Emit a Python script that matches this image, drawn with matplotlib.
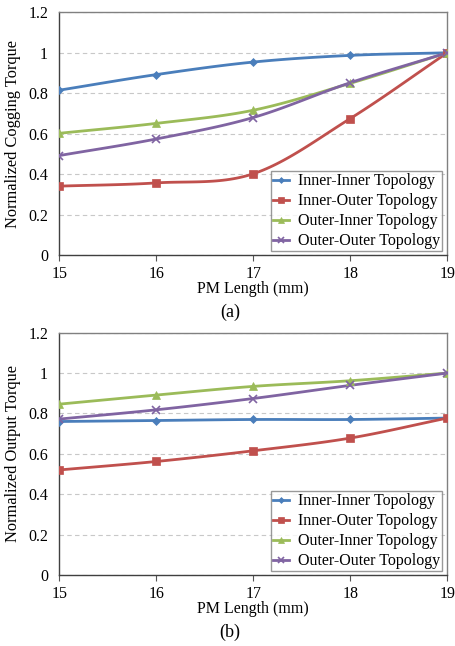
import numpy as np
import matplotlib
matplotlib.use("Agg")
import matplotlib.pyplot as plt

plt.rcParams['font.family'] = ['Liberation Serif', 'DejaVu Serif']

# PM length (mm)
pm_length = [15, 16, 17, 18, 19]
labels = ["Inner-Inner Topology", "Inner-Outer Topology",
          "Outer-Inner Topology", "Outer-Outer Topology"]

# (a) normalized cogging torque
cog_inner_inner = [0.815, 0.892, 0.954, 0.987, 1.0]
cog_inner_outer = [0.341, 0.357, 0.402, 0.675, 1.0]
cog_outer_inner = [0.602, 0.651, 0.716, 0.849, 1.0]
cog_outer_outer = [0.492, 0.574, 0.680, 0.852, 1.0]

# (b) normalized output torque
out_inner_inner = [0.760, 0.765, 0.770, 0.770, 0.777]
out_inner_outer = [0.520, 0.562, 0.615, 0.678, 0.777]
out_outer_inner = [0.846, 0.891, 0.934, 0.962, 1.0]
out_outer_outer = [0.772, 0.818, 0.874, 0.939, 1.0]

colors = ["#4A7EBB", "#C0504D", "#9BBB59", "#8064A2"]
markers = ["D", "s", "^", "x"]
msizes = [4, 5.5, 6, 6]


def smooth(x, y, n=30):
    # Catmull-Rom style curve through the points, like Excel's smoothed line
    x = np.asarray(x, float)
    y = np.asarray(y, float)
    px = np.concatenate([[2 * x[0] - x[1]], x, [2 * x[-1] - x[-2]]])
    py = np.concatenate([[2 * y[0] - y[1]], y, [2 * y[-1] - y[-2]]])
    xs, ys = [], []
    t = np.linspace(0, 1, n)
    for i in range(1, len(px) - 2):
        for p, out in ((px, xs), (py, ys)):
            p0, p1, p2, p3 = p[i - 1], p[i], p[i + 1], p[i + 2]
            m1 = (p2 - p0) / 2
            m2 = (p3 - p1) / 2
            h00 = 2 * t**3 - 3 * t**2 + 1
            h10 = t**3 - 2 * t**2 + t
            h01 = -2 * t**3 + 3 * t**2
            h11 = t**3 - t**2
            out.extend(h00 * p1 + h10 * m1 + h01 * p2 + h11 * m2)
    return xs, ys


def draw(ax, series, ylabel, tag):
    for vals, lab, c, m, ms in zip(series, labels, colors, markers, msizes):
        sx, sy = smooth(pm_length, vals)
        ax.plot(sx, sy, color=c, lw=2, zorder=3)
        mew = 1.2 if m == "x" else 0.5
        ax.plot(pm_length, vals, linestyle="none", marker=m, color=c,
                markersize=ms, markeredgewidth=mew, zorder=4)
        ax.plot([], [], color=c, lw=2, marker=m, markersize=ms - 1,
                markeredgewidth=mew, label=lab)
    ax.set_xlim(15, 19)
    ax.set_ylim(0, 1.2)
    ax.set_xticks(pm_length)
    ax.set_yticks([0, 0.2, 0.4, 0.6, 0.8, 1.0, 1.2])
    ax.set_yticklabels(["0", "0.2", "0.4", "0.6", "0.8", "1", "1.2"])
    ax.yaxis.grid(True, linestyle=(0, (4, 3)), color="#C8C8C8", lw=0.8)
    ax.set_axisbelow(True)
    ax.tick_params(axis="y", length=0, labelsize=11.5, pad=8)
    ax.tick_params(axis="x", length=4, direction="out", labelsize=11.5,
                   color="#555555", pad=4)
    for s in ax.spines.values():
        s.set_color("#808080")
        s.set_linewidth(1)
    ax.spines["left"].set_color("#404040")
    ax.spines["bottom"].set_color("#404040")
    ax.set_xlabel("PM Length (mm)", fontsize=11.5, labelpad=-1)
    ax.set_ylabel(ylabel, fontsize=11.8, labelpad=5)
    leg = ax.legend(loc="lower right", fontsize=11.5, frameon=True,
                    fancybox=False, edgecolor="#808080", handlelength=1.0,
                    handletextpad=0.6, borderpad=0.12, labelspacing=0.25,
                    borderaxespad=0, bbox_to_anchor=(0.987, 0.016))
    leg.get_frame().set_linewidth(1)
    ax.text(0.44, -0.235, tag, transform=ax.transAxes, ha="center",
            va="center", fontsize=13)


fig = plt.figure(figsize=(4.55, 6.46), dpi=100)
ax1 = fig.add_axes([0.130, 0.605, 0.853, 0.376])
ax2 = fig.add_axes([0.130, 0.110, 0.853, 0.375])

draw(ax1, [cog_inner_inner, cog_inner_outer, cog_outer_inner, cog_outer_outer],
     "Normalized Cogging Torque", "(a)")
draw(ax2, [out_inner_inner, out_inner_outer, out_outer_inner, out_outer_outer],
     "Normalized Output Torque", "(b)")

fig.savefig("out.png", dpi=100)
